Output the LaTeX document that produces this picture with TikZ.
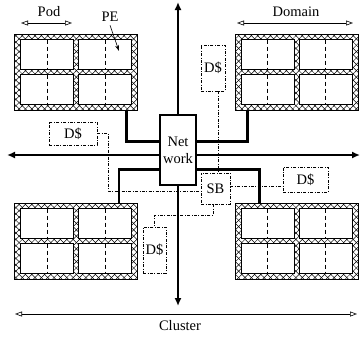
\documentclass[tikz,border=0pt]{standalone}
\usepackage{fontspec}
\setmainfont{Liberation Serif}
\usetikzlibrary{arrows.meta,positioning,patterns.meta}
\tikzset{
  block/.style={draw, line width=0.8pt, minimum width=123pt, minimum height=76pt, inner sep=0pt,
                preaction={pattern={Lines[angle=45,distance=4.5pt,line width=0.5pt]}},
                pattern={Lines[angle=-45,distance=4.5pt,line width=0.5pt]}},
  cell/.style={draw, fill=white, line width=0.9pt, minimum width=53pt, minimum height=30pt, inner sep=0pt,
               path picture={\draw[line width=0.7pt, dash pattern=on 4pt off 3pt]
                 (path picture bounding box.north) -- (path picture bounding box.south);}},
  bus/.style={line width=2.6pt},
  axis/.style={line width=2.6pt, -{Latex[length=8pt,width=7pt]}},
  cache/.style={draw, fill=white, line width=0.8pt, inner sep=0pt,
                dash pattern=on 3pt off 1.5pt on 0.8pt off 1.5pt},
  link/.style={line width=0.8pt, dash pattern=on 3pt off 1.5pt on 0.8pt off 1.5pt},
  span/.style={line width=0.6pt, {Triangle[open,length=7pt,width=5pt]}-{Triangle[open,length=7pt,width=5pt]}},
}

\begin{document}
\begin{tikzpicture}[x=1pt, y=-1pt, font=\fontsize{14.5}{17}\selectfont]
  \useasboundingbox (0,0) rectangle (361,338);

  % four domains, each of 2x2 pods
  \node[block] (tl) at (76,72) {};
  \node[block] (tr) at (296.5,72) {};
  \node[block] (bl) at (76,241) {};
  \node[block] (br) at (296.5,241) {};
  \foreach \b in {tl,tr,bl,br}
    \foreach \dx/\dy in {-29/-17.5, 29/-17.5, -29/17.5, 29/17.5}
      \node[cell] at ([shift={(\dx,\dy)}]\b.center) {};

  % caches and switch box
  \node[cache, minimum width=24pt, minimum height=46pt] (dtop) at (213,68) {D\$};
  \node[cache, minimum width=48pt, minimum height=23pt] (dleft) at (73,133.5) {D\$};
  \node[cache, minimum width=45pt, minimum height=25pt] (dright) at (305.5,179.5) {D\$};
  \node[cache, minimum width=23pt, minimum height=46pt] (dbot) at (154.5,250) {D\$};
  \node[cache, minimum width=29pt, minimum height=31pt] (sb) at (215.5,188.5) {SB};
  \draw[link] ([xshift=5pt]dtop.south) -- ([xshift=5pt]dtop.south |- sb.north);
  \draw[link] (dleft.east) -- ++(11,0) |- ([yshift=-2.5pt]sb.west);
  \draw[link] ([yshift=2.5pt]sb.east) -- ([yshift=2.5pt]sb.east -| dright.west);
  \draw[link] ([xshift=-2.5pt]sb.south) -- ++(0,11) -| (dbot.north);

  % network
  \node[draw, fill=white, line width=2.6pt, minimum width=36pt, minimum height=70pt,
        inner sep=0pt, align=center] (net) at (178,150) {Net\\work};
  \coordinate (n) at (178,2);
  \coordinate (s) at (178,306);
  \coordinate (w) at (7,155);
  \coordinate (e) at (360,155);
  \draw[axis] (net.north) -- (n);
  \draw[axis] (net.south) -- (s);
  \draw[axis] ([yshift=-5pt]net.west) -- (w);
  \draw[axis] ([yshift=-5pt]net.east) -- (e);
  \draw[bus] ([xshift=-11pt]tl.south east) |- ([yshift=-28pt]net.north west);
  \draw[bus] ([xshift=13pt]tr.south west) |- ([yshift=-28pt]net.north east);
  \draw[bus] ([xshift=-19pt]bl.north east) |- ([yshift=17pt]net.south west);
  \draw[bus] ([xshift=25pt]br.north west) |- ([yshift=17pt]net.south east);

  % labels
  \node (pod) at (49,12) {Pod};
  \node (dom) at (296,12) {Domain};
  \node (pe) at (110,17) {PE};
  \node (clu) at (180,326) {Cluster};
  \coordinate (podl) at (21,23);
  \coordinate (podr) at (72,23);
  \coordinate (doml) at (237,23);
  \coordinate (domr) at (353,23);
  \coordinate (clul) at (15,314);
  \coordinate (clur) at (357,314);
  \coordinate (petip) at (119,51);
  \draw[span] (podl) -- (podr);
  \draw[span] (doml) -- (domr);
  \draw[span] (clul) -- (clur);
  \draw[line width=0.6pt, -{Stealth[length=6pt,width=4pt]}] (pe.south) -- (petip);
\end{tikzpicture}
\end{document}
